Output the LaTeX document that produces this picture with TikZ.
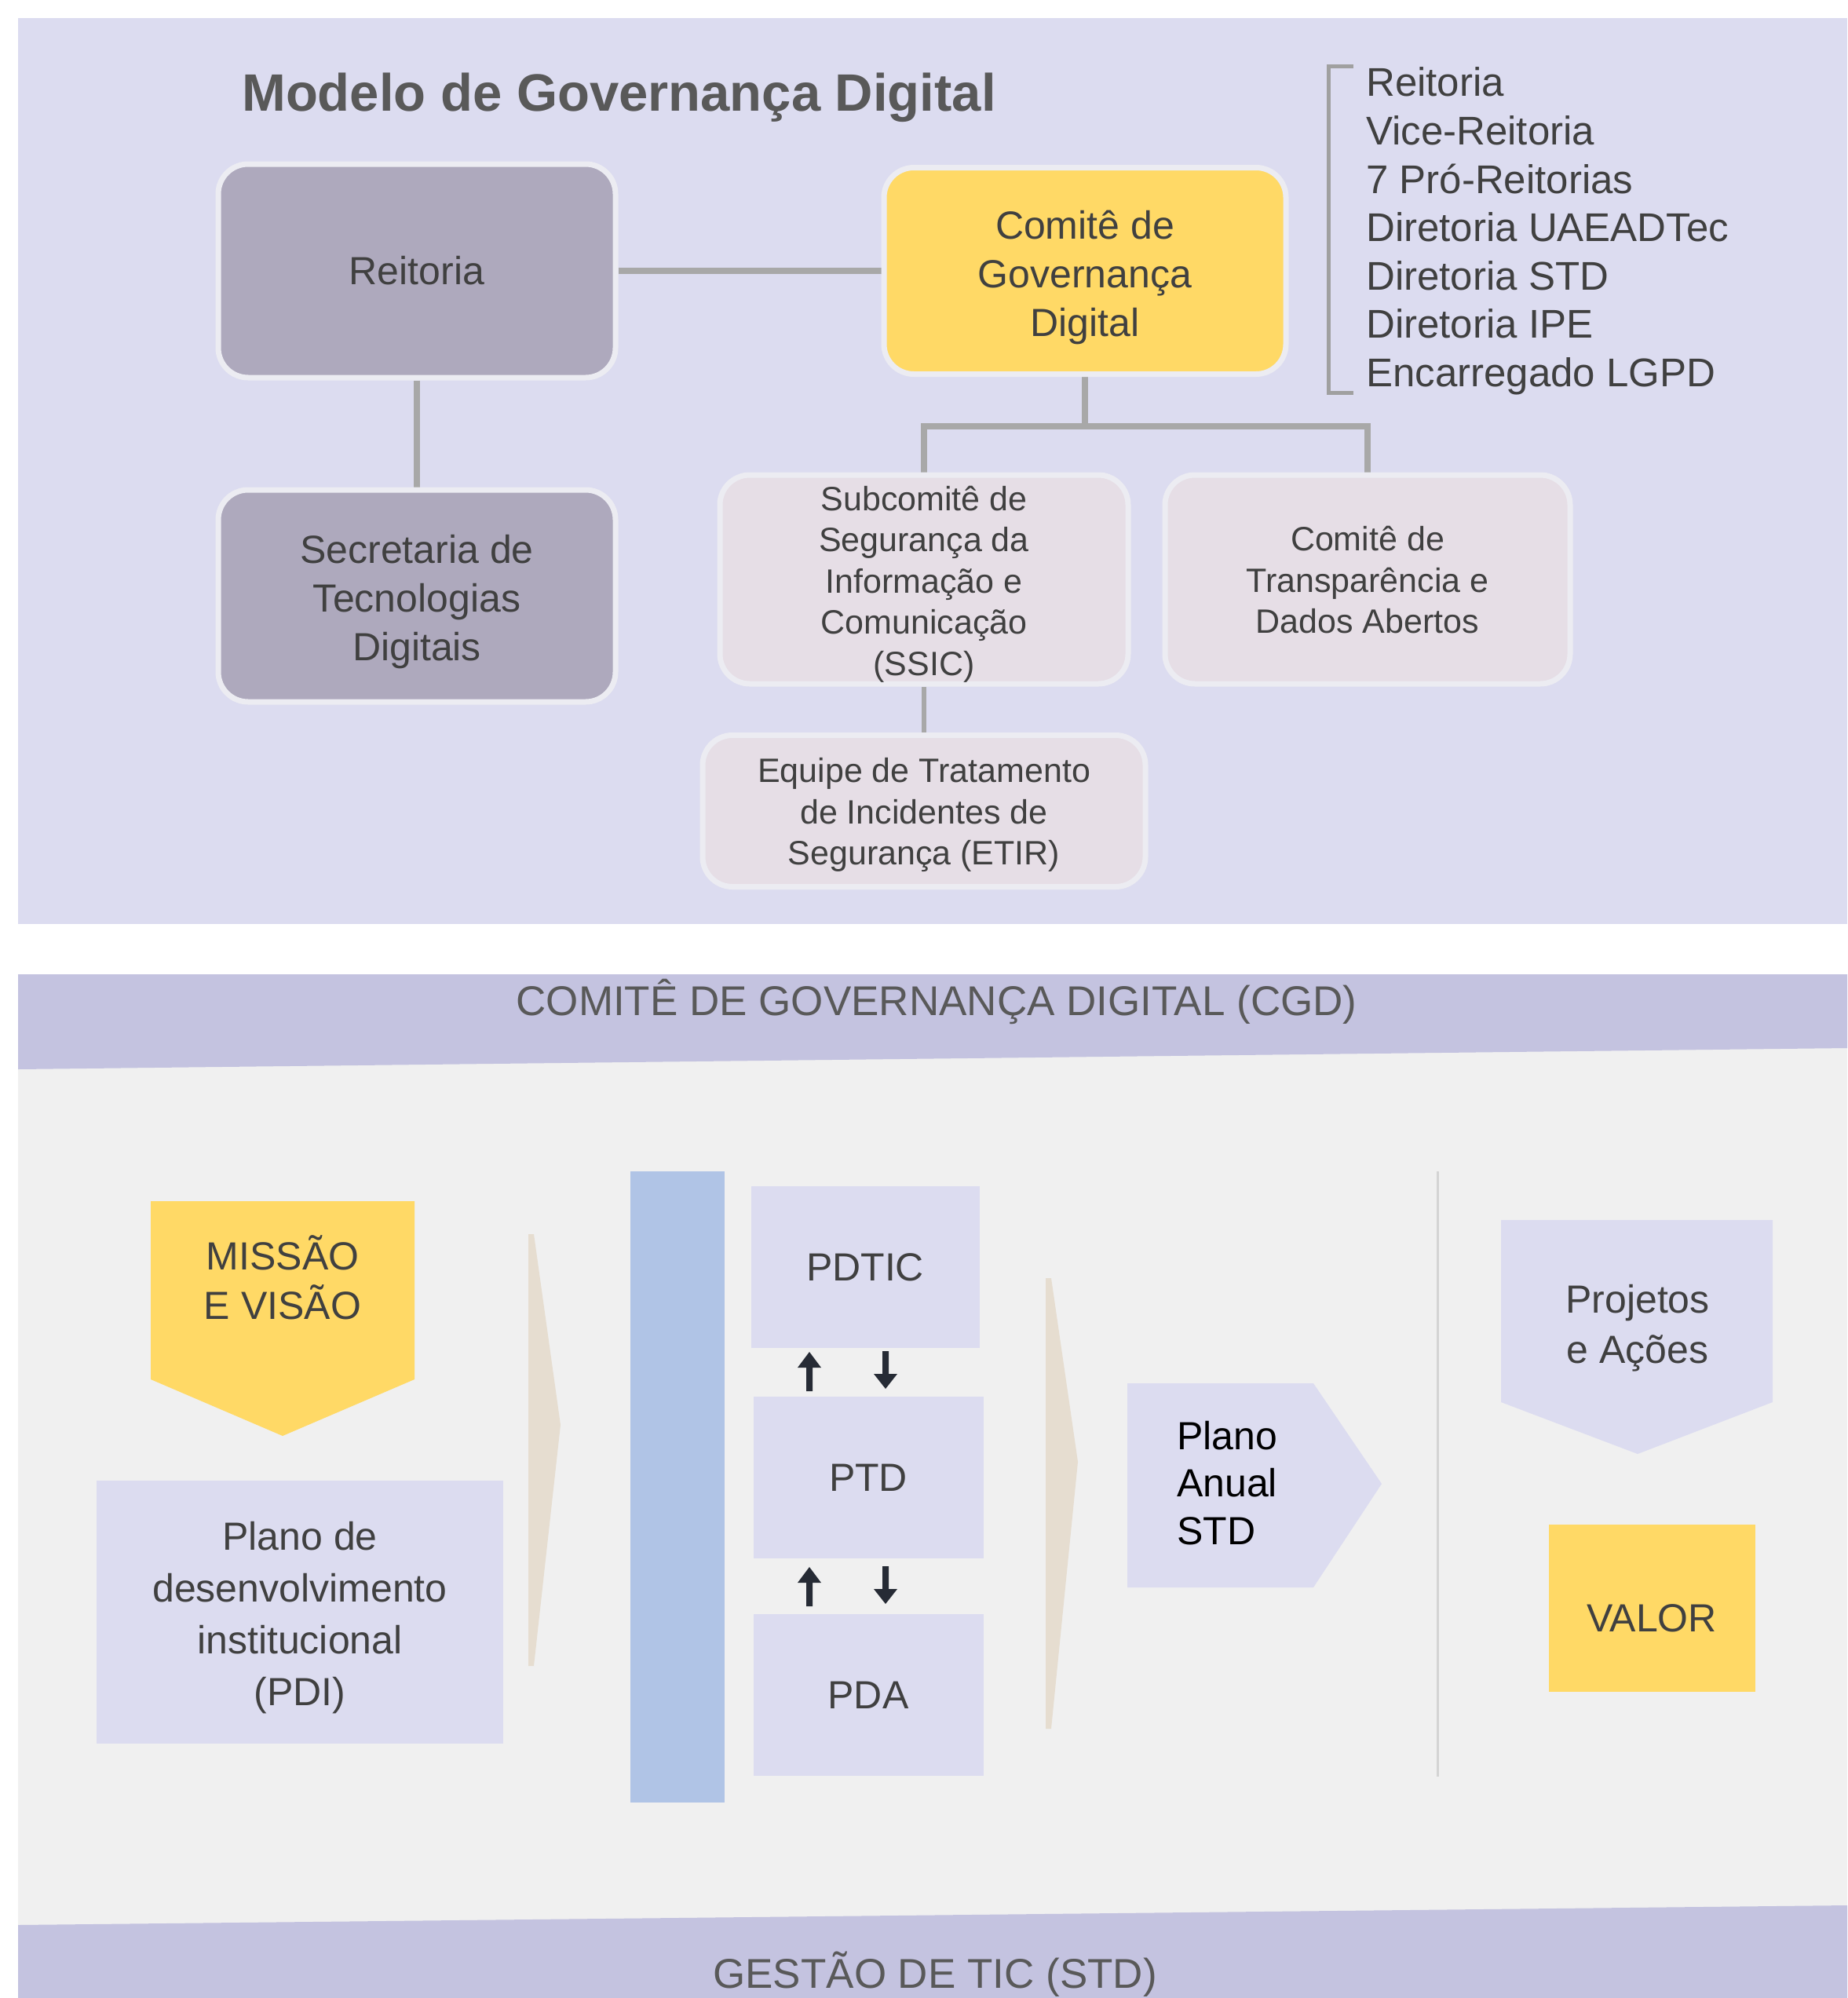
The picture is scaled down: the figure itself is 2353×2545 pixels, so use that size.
\documentclass[tikz,border=0pt]{standalone}
\usepackage{fontspec}
\setmainfont{Liberation Sans}
\definecolor{panel}{HTML}{DCDCF0}
\definecolor{reitc}{HTML}{AEA9BD}
\definecolor{yel}{HTML}{FFD966}
\definecolor{pinkc}{HTML}{E6DEE6}
\definecolor{bordc}{HTML}{ECECF2}
\definecolor{linec}{HTML}{A8A8A8}
\definecolor{txt}{HTML}{404040}
\definecolor{ttl}{HTML}{595959}
\definecolor{band}{HTML}{C4C3E0}
\definecolor{midgray}{HTML}{F0F0F0}
\definecolor{lav}{HTML}{DCDCF0}
\definecolor{bluebar}{HTML}{B0C4E6}
\definecolor{beige}{HTML}{E6DDD0}
\definecolor{divc}{HTML}{D4D4D4}
\definecolor{arrc}{HTML}{262B35}
\definecolor{brk}{HTML}{A0A0A0}
\pgfdeclarelayer{back}
\pgfdeclarelayer{bg}
\pgfsetlayers{back,bg,main}
\begin{document}
\begin{tikzpicture}[x=1pt,y=-1pt,
  orgbox/.style={rectangle, rounded corners=38pt, draw=bordc, line width=7pt, inner sep=0pt},
  bigfont/.style={inner sep=0pt, align=center, text=txt, font=\fontsize{50}{62}\selectfont},
  smallfont/.style={inner sep=0pt, align=center, text=txt, font=\fontsize{43}{52.5}\selectfont},
  conn/.style={draw=linec, line width=8pt},
  flatbox/.style={rectangle, fill=lav, inner sep=0pt, align=center, text=txt, font=\fontsize{50}{66}\selectfont},
  plaintxt/.style={inner sep=0pt, align=center, text=txt, font=\fontsize{50}{63}\selectfont},
  listitem/.style={anchor=base west, inner sep=0pt, text=txt, font=\fontsize{51}{62}\selectfont},
  bandtxt/.style={anchor=base, inner sep=0pt, text=ttl, font=\fontsize{53}{60}\selectfont},
  blockarrow/.style={fill=arrc},
]
\useasboundingbox (0,0) rectangle (2353,2545);
\begin{pgfonlayer}{back}
\fill[white] (0,0) rectangle (2353,2545);
\fill[panel] (23,23) rectangle (2353,1177);
\fill[midgray] (23,1300) rectangle (2353,2480);
\fill[band] (23,1241) -- (2353,1241) -- (2353,1335) -- (23,1362) -- cycle;
\fill[band] (23,2452) -- (2353,2427) -- (2353,2545) -- (23,2545) -- cycle;
\end{pgfonlayer}

% ---------- top: governance model ----------
\node[anchor=base west, inner sep=0pt, text=ttl, font=\fontsize{67}{72}\selectfont\bfseries] (title) at (308,142) {Modelo de Governança Digital};

\node[orgbox, fill=reitc, minimum width=506pt, minimum height=272pt] (reit) at (531,345) {};
\node[bigfont] (reitt) at (reit) {Reitoria};
\node[orgbox, fill=reitc, minimum width=506pt, minimum height=270pt] (secr) at (531,759) {};
\node[bigfont] (secrt) at (531,767) {Secretaria de\\Tecnologias\\Digitais};
\node[orgbox, fill=yel, minimum width=512pt, minimum height=263pt] (comite) at (1382,345) {};
\node[bigfont] (comitet) at (1382,353) {Comitê de\\Governança\\Digital};
\node[orgbox, fill=pinkc, minimum width=520pt, minimum height=266pt] (subc) at (1177,738) {};
\node[smallfont] (subct) at (1177,744) {Subcomitê de\\Segurança da\\Informação e\\Comunicação\\(SSIC)};
\node[orgbox, fill=pinkc, minimum width=516pt, minimum height=266pt] (transp) at (1742,738) {};
\node[smallfont] (transpt) at (1742,739) {Comitê de\\Transparência e\\Dados Abertos};
\node[orgbox, fill=pinkc, minimum width=564pt, minimum height=193pt] (etir) at (1177,1033) {};
\node[smallfont] (etirt) at (1177,1038) {Equipe de Tratamento\\de Incidentes de\\Segurança (ETIR)};

\begin{pgfonlayer}{bg}
\draw[conn] (reit) -- (comite);
\draw[conn] (reit) -- (secr);
\draw[conn] (comite.south) -- ++(0,63) coordinate (fork) -| (subc.north);
\draw[conn] (fork) -| (transp.north);
\draw[conn, line width=6pt] (subc) -- (etir);
\end{pgfonlayer}

% bracket and member list
\draw[brk, line width=5pt] (1724,85) -- (1692,85) -- (1692,500) -- (1724,500);
\node[listitem] (l1) at (1740,123) {Reitoria};
\node[listitem] (l2) at (1740,184.5) {Vice-Reitoria};
\node[listitem] (l3) at (1740,246) {7 Pró-Reitorias};
\node[listitem] (l4) at (1740,307.5) {Diretoria UAEADTec};
\node[listitem] (l5) at (1740,369) {Diretoria STD};
\node[listitem] (l6) at (1740,430.5) {Diretoria IPE};
\node[listitem] (l7) at (1740,492) {Encarregado LGPD};

% ---------- bottom: CGD / STD ----------
\node[bandtxt] (cgd) at (1193,1293) {COMITÊ DE GOVERNANÇA DIGITAL (CGD)};
\node[bandtxt] (gestao) at (1191,2532) {GESTÃO DE TIC (STD)};

% Missão e Visão
\fill[yel] (192,1530) -- (528,1530) -- (528,1757) -- (360,1829) -- (192,1757) -- cycle;
\node[plaintxt] (missao) at (360,1627) {MISSÃO\\E VISÃO};

% PDI
\node[flatbox, minimum width=518pt, minimum height=335pt] (pdi) at (382,2053) {};
\node[inner sep=0pt, align=center, text=txt, font=\fontsize{50}{66}\selectfont] (pdit) at (382,2061) {Plano de\\desenvolvimento\\institucional\\(PDI)};

% chevrons
\fill[beige] (673,1572) -- (680,1572) -- (714,1815) -- (680,2122) -- (673,2122) -- cycle;
\fill[beige] (1332,1628) -- (1339,1628) -- (1373,1862) -- (1339,2202) -- (1332,2202) -- cycle;

% blue bar
\node[rectangle, fill=bluebar, minimum width=120pt, minimum height=804pt, inner sep=0pt] (bar) at (863,1894) {};

% plans
\node[flatbox, minimum width=291pt, minimum height=206pt] (pdtic) at (1102,1614) {PDTIC};
\node[flatbox, minimum width=293pt, minimum height=206pt] (ptd) at (1106,1882) {PTD};
\node[flatbox, minimum width=293pt, minimum height=206pt] (pda) at (1106,2159) {PDA};

% small block arrows
\foreach \dy in {0,274}{
  \fill[blockarrow] (1027,{1772+\dy}) -- (1027,{1742+\dy}) -- (1016,{1742+\dy}) -- (1031,{1722+\dy}) -- (1046,{1742+\dy}) -- (1035,{1742+\dy}) -- (1035,{1772+\dy}) -- cycle;
  \fill[blockarrow] (1124,{1721+\dy}) -- (1132,{1721+\dy}) -- (1132,{1750+\dy}) -- (1143,{1750+\dy}) -- (1128,{1769+\dy}) -- (1113,{1750+\dy}) -- (1124,{1750+\dy}) -- cycle;
}

% Plano Anual STD
\fill[lav] (1436,1762) -- (1673,1762) -- (1760,1890) -- (1673,2022) -- (1436,2022) -- cycle;
\node[anchor=west, inner sep=0pt, align=left, text=black, font=\fontsize{50}{60.5}\selectfont] (plano) at (1499,1889) {Plano\\Anual\\STD};

% divider
\draw[divc, line width=3pt] (1831,1492) -- (1831,2263);

% Projetos e Ações
\fill[lav] (1912,1554) -- (2258,1554) -- (2258,1786) -- (2086,1852) -- (1912,1786) -- cycle;
\node[plaintxt, font=\fontsize{50}{64}\selectfont] (proj) at (2086,1692) {Projetos\\e Ações};

% Valor
\node[rectangle, fill=yel, minimum width=263pt, minimum height=213pt, inner sep=0pt] (valor) at (2104,2048) {};
\node[plaintxt] (valort) at (2104,2061) {VALOR};
\end{tikzpicture}
\end{document}
